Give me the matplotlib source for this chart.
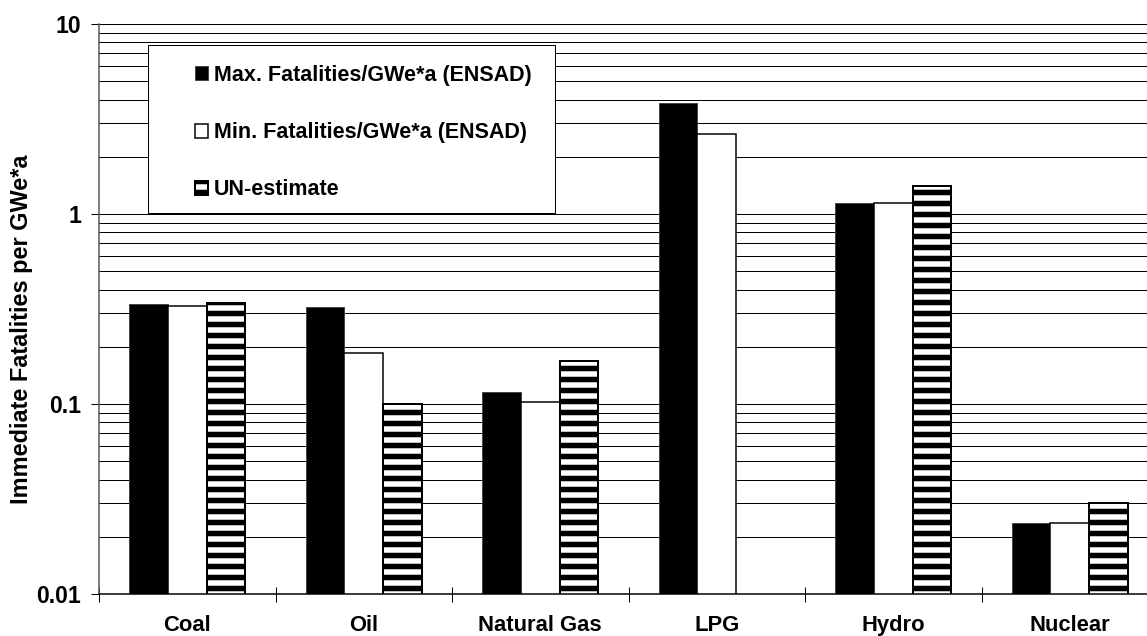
import matplotlib.pyplot as plt
import numpy as np
from matplotlib.patches import Rectangle
from matplotlib.ticker import LogLocator, NullFormatter

categories = ['Coal', 'Oil', 'Natural Gas', 'LPG', 'Hydro', 'Nuclear']
max_ensad = [0.336, 0.324, 0.116, 3.84, 1.14, 0.0236]
min_ensad = [0.328, 0.186, 0.102, 2.64, 1.14, 0.0236]
un_estimate = [0.340, 0.100, 0.168, np.nan, 1.40, 0.030]
series_labels = ['Max. Fatalities/GWe*a (ENSAD)', 'Min. Fatalities/GWe*a (ENSAD)', 'UN-estimate']
yticks = [0.01, 0.1, 1, 10]
ytick_labels = ['0.01', '0.1', '1', '10']

DPI = 66
W, H = 1147, 636


def px(v):
    # pixel size -> points at this dpi
    return v * 72 / DPI


plt.rcParams['font.family'] = ['Liberation Sans', 'DejaVu Sans']
plt.rcParams['font.weight'] = 'bold'
plt.rcParams['hatch.linewidth'] = px(5.5)
plt.rcParams['hatch.color'] = 'black'

fig = plt.figure(figsize=(W / DPI, H / DPI), dpi=DPI)
ax = fig.add_axes([99 / W, 1 - 594 / H, 1059 / W, 570 / H])
ax.set_yscale('log')

x = np.arange(len(categories))
width = 0.22
un = np.array(un_estimate)
ok = ~np.isnan(un)

ax.bar(x - width, max_ensad, width, color='black', edgecolor='#444444', linewidth=px(1),
       label=series_labels[0])
ax.bar(x, min_ensad, width, color='white', edgecolor='black', linewidth=px(1.5),
       label=series_labels[1])
ax.bar(x[ok] + width, un[ok], width, color='white', edgecolor='black', hatch='-', linewidth=px(2),
       label=series_labels[2])

ax.set_ylim(0.01, 10)
ax.set_xlim(-0.5, len(categories) - 0.5)
ax.set_yticks(yticks, ytick_labels)
ax.yaxis.set_minor_locator(LogLocator(base=10, subs=np.arange(2, 10)))
ax.yaxis.set_minor_formatter(NullFormatter())
ax.grid(True, axis='y', which='both', color='black', linewidth=px(1))
ax.set_axisbelow(True)
ax.tick_params(axis='y', which='major', direction='out', length=px(8), width=px(1),
               pad=px(10), labelsize=px(23))
ax.tick_params(axis='y', which='minor', length=0)

ax.set_xticks(x, categories)
ax.set_xticks(np.arange(len(categories) + 1) - 0.5, minor=True)
ax.tick_params(axis='x', which='major', length=0, pad=px(21), labelsize=px(22))
ax.tick_params(axis='x', which='minor', direction='inout', length=px(15), width=px(1))

for side in ['top', 'right']:
    ax.spines[side].set_visible(False)
ax.spines['left'].set_color('#555555')
ax.spines['left'].set_linewidth(px(1.5))
ax.spines['bottom'].set_linewidth(px(1.5))

ax.set_ylabel('Immediate Fatalities per GWe*a', fontsize=px(23.5), fontweight='bold')
ax.yaxis.set_label_coords((33 - 99) / 1059, 0.465)

# legend box drawn by hand, entries placed inside it
frame = Rectangle((148 / W, 1 - 213 / H), (555 - 148) / W, (213 - 45) / H,
                  transform=fig.transFigure, facecolor='white', edgecolor='black',
                  linewidth=px(1), zorder=4)
fig.add_artist(frame)
handles, labels = ax.get_legend_handles_labels()
fig.legend(handles, labels, loc='upper left', bbox_to_anchor=(195 / W, 1 - 65 / H),
           frameon=False, borderpad=0, borderaxespad=0, fontsize=px(21.5),
           handlelength=0.62, handleheight=0.62, handletextpad=0.25, labelspacing=1.68)

fig.savefig('out.png', dpi=DPI)
